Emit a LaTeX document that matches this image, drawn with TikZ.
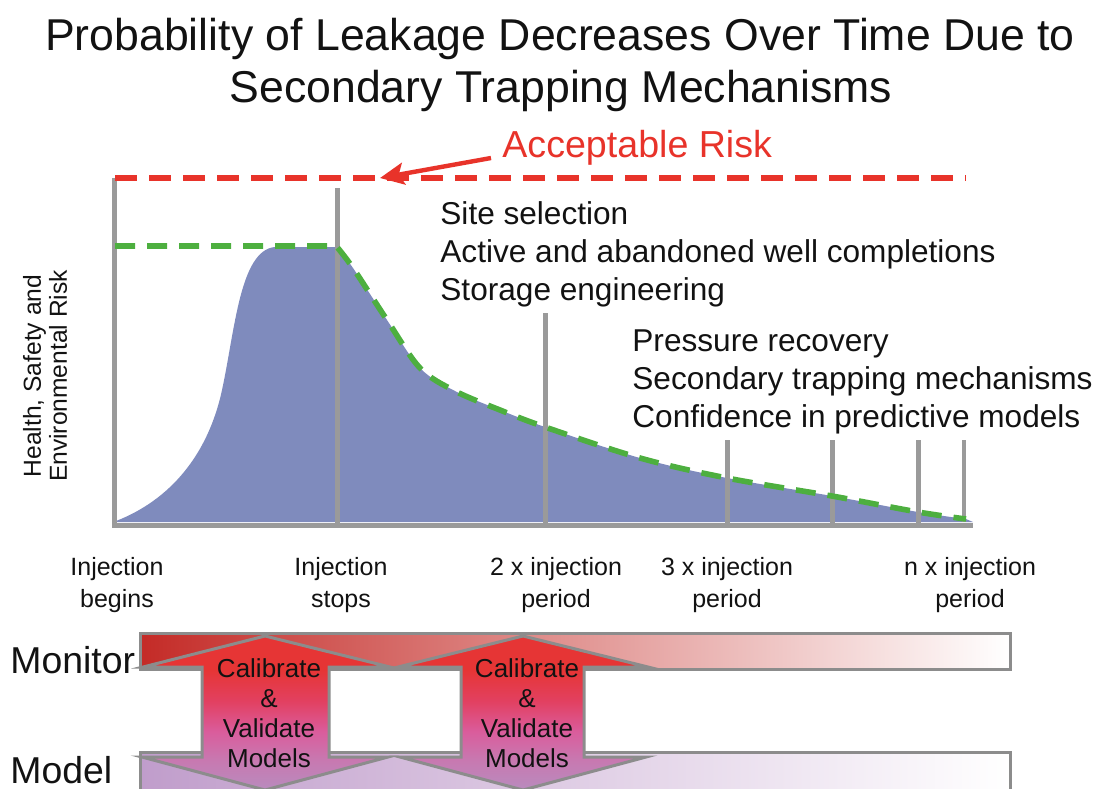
\documentclass[tikz,border=0pt]{standalone}
\usepackage{fontspec}
\setmainfont{Liberation Sans}
\usetikzlibrary{arrows.meta}
\definecolor{axisgray}{HTML}{9A9A9A}
\definecolor{fillblue}{HTML}{7F8BBD}
\definecolor{dashgreen}{HTML}{4DAF3F}
\definecolor{riskred}{HTML}{E8332A}
\definecolor{bordergray}{HTML}{8C8C8C}
\definecolor{monleft}{HTML}{C42B27}
\definecolor{monmid}{HTML}{E47774}
\definecolor{modleft}{HTML}{C09DCB}
\definecolor{modmid}{HTML}{E2CCE4}
\definecolor{arA}{HTML}{B98BBE}
\definecolor{arB}{HTML}{C878B0}
\definecolor{arC}{HTML}{DA5C9C}
\definecolor{arD}{HTML}{E24060}
\definecolor{arE}{HTML}{E63535}
\pgfdeclareverticalshading{arrowshade}{100bp}{color(0bp)=(arA); color(25bp)=(arA); color(35bp)=(arB); color(44bp)=(arC); color(54bp)=(arD); color(64bp)=(arE); color(100bp)=(arE)}
\begin{document}
\begin{tikzpicture}[x=0.5pt,y=-0.5pt,
  titletext/.style={font=\fontsize{22.3}{26}\selectfont, anchor=base, inner sep=0pt, text=black!93},
  bodytext/.style={font=\fontsize{15.8}{19}\selectfont, anchor=base west, inner sep=0pt, text=black!93},
  ticktext/.style={font=\fontsize{12.5}{16}\selectfont, align=center, inner sep=0pt, text=black!93},
  sidetext/.style={font=\fontsize{18.7}{22}\selectfont, anchor=base west, inner sep=0pt, text=black!93},
  arrowtext/.style={font=\fontsize{13}{15}\selectfont, align=center, inner sep=0pt, text=black!93},
  axisline/.style={draw=axisgray, line width=2.5pt},
  tickline/.style={draw=axisgray, line width=2.5pt},
  greendash/.style={draw=dashgreen, line width=2.8pt, dash pattern=on 10pt off 6pt},
  reddash/.style={draw=riskred, line width=3pt, dash pattern=on 11pt off 6pt},
  bararrow/.style={draw=bordergray, line width=1.5pt, shading=arrowshade},
  barbox/.style={draw=bordergray, line width=1.5pt}
]
\useasboundingbox (0,0) rectangle (1095,788);
\clip (0,0) rectangle (1095,788);

% title
\node[titletext] (title1) at (560,50) {Probability of Leakage Decreases Over Time Due to};
\node[titletext] (title2) at (561,102) {Secondary Trapping Mechanisms};

% blue area
\fill[fillblue] (116,522) -- (116,521) .. controls (170,500) and (208,455) .. (222,390) .. controls (235,330) and (240,250) .. (275,247)
  -- (337,247) -- plot[smooth, tension=0.55] coordinates {(337,247) (353,268) (387,320) (420,368) (455,391) (500,410) (545,427) (640,458) (727,478) (832,496) (918,512) (966,519)} -- (973,522) -- cycle;

% vertical grid lines and axes
\coordinate (yaxTop) at (114,178);
\coordinate (origin) at (114,525);
\coordinate (xaxEnd) at (973,525);
\draw[tickline] (337,188) -- (337,525);
\draw[tickline] (545,313) -- (545,525);
\draw[tickline] (727,440) -- (727,525);
\draw[tickline] (832,440) -- (832,525);
\draw[tickline] (918,440) -- (918,525);
\draw[draw=axisgray, line width=1.6pt] (964,440) -- (964,522);
\draw[axisline] (yaxTop) -- (origin) -- (xaxEnd);

% green dashed
\draw[greendash] (115,246) -- (337,246) -- plot[smooth, tension=0.55] coordinates {(337,247) (353,268) (387,320) (420,368) (455,391) (500,410) (545,427) (640,458) (727,478) (832,496) (918,512) (966,519)};

% red dashed acceptable risk
\coordinate (riskL) at (115,178);
\coordinate (riskR) at (966,178);
\draw[reddash] (riskL) -- (riskR);
\node[font=\fontsize{18.8}{22}\selectfont, text=riskred, anchor=base west, inner sep=0pt] (acc) at (502,157) {Acceptable Risk};
\coordinate (riskTail) at (491,158);
\coordinate (riskTip) at (380,178);
\draw[draw=riskred, line width=2.2pt, -{Stealth[length=12pt,width=11pt,inset=2.5pt]}] (riskTail) -- (riskTip);

% statements
\node[bodytext] (s1) at (440,224) {Site selection};
\node[bodytext] (s2) at (440,262) {Active and abandoned well completions};
\node[bodytext] (s3) at (440,300) {Storage engineering};
\node[bodytext] (p1) at (632,351) {Pressure recovery};
\node[bodytext] (p2) at (632,389) {Secondary trapping mechanisms};
\node[bodytext] (p3) at (632,427) {Confidence in predictive models};

% y-axis label
\node[font=\fontsize{12.3}{13}\selectfont, align=center, rotate=90, inner sep=0pt, text=black!93] (ylab) at (45,376) {Health, Safety and\\Environmental Risk};

% tick labels
\node[ticktext] (t1) at (117,585) {Injection\\begins};
\node[ticktext] (t2) at (341,585) {Injection\\stops};
\node[ticktext] (t3) at (556,585) {2 x injection\\period};
\node[ticktext] (t4) at (727,585) {3 x injection\\period};
\node[ticktext] (t5) at (970,585) {n x injection\\period};

% monitor and model bars
\path[barbox, left color=monleft, middle color=monmid, right color=white] (140,633) rectangle (1010,669);
\path[barbox, left color=modleft, middle color=modmid, right color=white] (140,752) rectangle (1010,800);
\node[sidetext] (mon) at (10,673) {Monitor};
\node[sidetext] (mod) at (10,783) {Model};

% double arrows
\path[bararrow] (265,636) -- (390,667) -- (329,667) -- (329,757) -- (388,757) -- (265,790) -- (142,757) -- (202,757) -- (202,667) -- (143,667) -- cycle;
\path[bararrow] (523,636) -- (648,667) -- (584,667) -- (584,757) -- (646,757) -- (523,790) -- (400,757) -- (461,757) -- (461,667) -- (398,667) -- cycle;

\node[arrowtext] (a1) at (269,713) {Calibrate\\\&\\Validate\\Models};
\node[arrowtext] (a2) at (527,713) {Calibrate\\\&\\Validate\\Models};
\end{tikzpicture}
\end{document}
